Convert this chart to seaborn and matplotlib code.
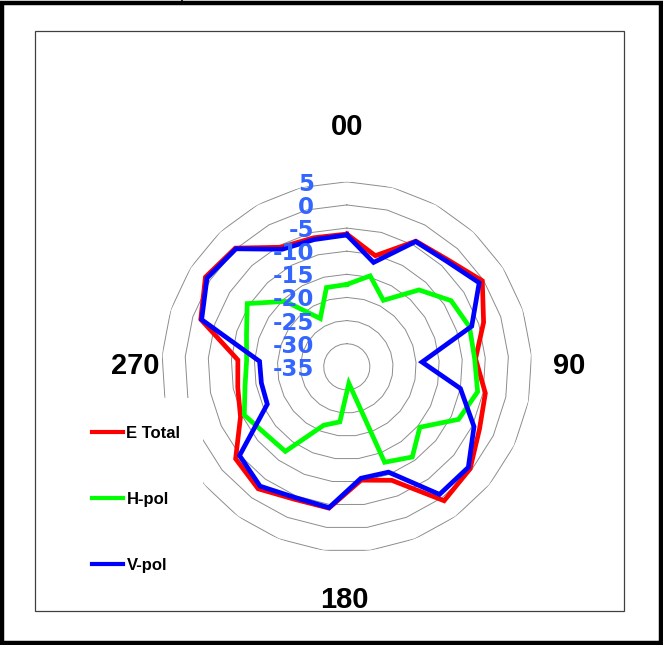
import numpy as np
import pandas as pd
import matplotlib
matplotlib.use("Agg")
import matplotlib.pyplot as plt
import matplotlib.transforms as mtransforms
from matplotlib.patches import Rectangle
from matplotlib.lines import Line2D
import seaborn as sns

# Azimuth categories (deg), 0..360 in 15 deg steps, each placed evenly round the chart
azimuth = [0, 15, 30, 45, 60, 75, 90, 105, 120, 135, 150, 165, 180,
           195, 210, 225, 240, 255, 270, 285, 300, 315, 330, 345, 360]

# Measured field levels (dB)
e_total = [-6.3, -10.2, -4.0, -3.2, -0.3, -3.9, -7.1, -4.5, -3.3, -0.4, 0.8, -8.6, -10.3,
           -4.2, -4.2, -2.4, -3.8, -9.6, -11.0, -11.4, -1.8, 1.2, 0.2, -5.5, -6.2]
h_pol = [-17.2, -14.7, -18.6, -12.2, -8.3, -7.1, -7.3, -6.2, -8.3, -14.5, -10.9, -12.8, -31.4,
         -23.0, -21.4, -12.4, -12.2, -10.5, -12.6, -13.3, -12.2, -9.5, -15.6, -23.1, -17.3]
v_pol = [-6.5, -11.7, -4.1, -3.6, -1.1, -6.6, -18.7, -10.0, -4.6, -0.9, -0.9, -10.5, -10.7,
         -4.3, -4.6, -3.1, -4.9, -16.0, -16.2, -16.1, -2.0, 0.8, 0.0, -6.0, -6.6]

series_names = ["E Total", "H-pol", "V-pol"]
series_colors = ["#ff0000", "#00ff00", "#0000ff"]

value_ticks = [5, 0, -5, -10, -15, -20, -25, -30, -35]
direction_labels = ["00", "90", "180", "270"]

R_MIN, R_MAX = -35, 5

W, H = 663, 645
fig = plt.figure(figsize=(W / 100, H / 100), dpi=100)
fig.patch.set_facecolor("white")


def fx(px):
    return px / W


def fy(py):
    return 1 - py / H


# polar area: centre (347, 367), outer ring radius 185 px
cx, cy, rad = 346.8, 366.8, 185
ax = fig.add_axes([fx(cx - rad), fy(cy + rad), 2 * rad / W, 2 * rad / H], projection="polar")
ax.set_theta_zero_location("N")
ax.set_theta_direction(-1)
ax.set_ylim(R_MIN, R_MAX)
ax.set_facecolor("none")
ax.grid(False)
ax.spines["polar"].set_visible(False)
ax.set_xticks([])
ax.set_yticks([])

n = len(azimuth)
theta = np.linspace(0, 2 * np.pi, n, endpoint=False)
theta_closed = np.append(theta, 2 * np.pi)

# polygonal gridlines, one per value step
for lvl in value_ticks[:-1]:
    ax.plot(theta_closed, np.full(n + 1, lvl), color="#8c8c8c", lw=0.7, zorder=1)

frames = []
for name, vals in zip(series_names, [e_total, h_pol, v_pol]):
    vv = list(vals) + [vals[0]]
    frames.append(pd.DataFrame({"theta": theta_closed, "level": vv, "series": name}))
df = pd.concat(frames, ignore_index=True)

sns.lineplot(data=df, x="theta", y="level", hue="series", hue_order=series_names,
             palette=dict(zip(series_names, series_colors)), sort=False, estimator=None,
             lw=3.4, ax=ax, legend=False, zorder=3)
for ln in ax.get_lines()[-3:]:
    ln.set_solid_joinstyle("miter")
ax.set_xlabel("")
ax.set_ylabel("")
ax.set_ylim(R_MIN, R_MAX)

# value labels up the vertical axis
lab_tr = mtransforms.offset_copy(ax.transData, fig=fig, x=-33, y=0, units="dots")
for v in value_ticks:
    ax.text(0, v, str(v), transform=lab_tr, ha="right", va="center_baseline",
            fontsize=16.5, fontweight="bold", color="#3366ff",
            family="DejaVu Sans", zorder=6)

# compass labels
for txt, (px, py) in zip(direction_labels, [(347.5, 124), (569, 362.5), (344.5, 597), (135, 362.5)]):
    fig.text(fx(px), fy(py), txt, ha="center", va="center_baseline", fontsize=21,
             fontweight="bold", family="Liberation Sans", color="black")

# white legend area masking the outer rings
ax.add_patch(Rectangle((fx(60), fy(600)), fx(203) - fx(60), fy(398) - fy(600),
                       transform=fig.transFigure, fc="white", ec="none",
                       zorder=1.5, clip_on=False))

# legend
handles = [Line2D([], [], color=c, lw=3.0) for c in series_colors]
leg = ax.legend(handles, series_names, loc="upper left",
                bbox_to_anchor=(fx(92), fy(425.5)), bbox_transform=fig.transFigure,
                frameon=False, borderpad=0, borderaxespad=0,
                handlelength=1.85, handletextpad=0.22, labelspacing=3.07,
                prop={"family": "Liberation Sans", "weight": "bold", "size": 12})

# plot-area box and outer frame
fig.add_artist(Rectangle((fx(34.5), fy(611)), fx(623.5) - fx(34.5), fy(31) - fy(611),
                         transform=fig.transFigure, fill=False, ec="#404040", lw=0.9))
fig.add_artist(Rectangle((fx(1.8), fy(642.5)), fx(660.5) - fx(1.8), fy(3) - fy(642.5),
                         transform=fig.transFigure, fill=False, ec="black", lw=3.2))
fig.add_artist(Line2D([fx(182), fx(182)], [fy(0), fy(4)], transform=fig.transFigure,
                      color="black", lw=1.2))

fig.savefig("out.png", dpi=100)
